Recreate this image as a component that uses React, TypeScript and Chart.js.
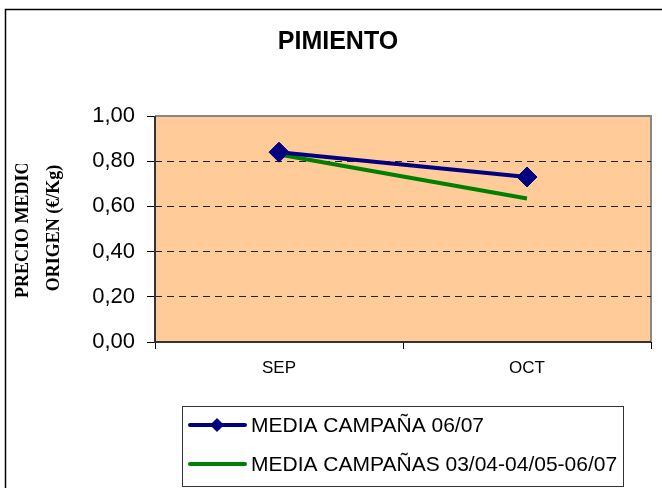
import React, { useEffect, useRef } from 'react';
import { Chart, registerables } from 'chart.js';

Chart.register(...registerables);

const categories = ['SEP', 'OCT'];
const serieCampana0607 = [0.84, 0.73];
const serieMediaCampanas = [0.83, 0.635];
const seriesLabels = ['MEDIA CAMPAÑA 06/07', 'MEDIA CAMPAÑAS 03/04-04/05-06/07'];
const seriesColors = ['#000080', '#008000'];
const chartTitle = 'PIMIENTO';
const yTitleLines = ['PRECIO MEDIO', 'ORIGEN (€/Kg)'];
const yTickValues = [0, 0.2, 0.4, 0.6, 0.8, 1.0];

const SANS = '"Liberation Sans", Arial, sans-serif';
const SERIF = '"Liberation Serif", "Times New Roman", serif';

const decorPlugin = {
  id: 'decor',
  beforeDraw(chart: any) {
    const { ctx, chartArea: a } = chart;
    ctx.save();
    ctx.fillStyle = '#ffffff';
    ctx.fillRect(0, 0, chart.width, chart.height);
    // outer chart frame
    ctx.strokeStyle = '#000000';
    ctx.lineWidth = 1.5;
    ctx.strokeRect(5.5, 9.5, chart.width + 20, chart.height + 20);
    // title
    ctx.fillStyle = '#000';
    ctx.font = `bold 25px ${SANS}`;
    ctx.textAlign = 'center';
    ctx.textBaseline = 'alphabetic';
    ctx.fillText(chartTitle, 338, 49);
    // y axis title (rotated, first line clipped)
    ctx.font = `bold 18px ${SERIF}`;
    ctx.save();
    ctx.beginPath();
    ctx.rect(0, 164, 120, 250);
    ctx.clip();
    ctx.translate(28, 298);
    ctx.rotate(-Math.PI / 2);
    ctx.textAlign = 'left';
    ctx.fillText(yTitleLines[0], 0, 0);
    ctx.restore();
    ctx.save();
    ctx.translate(59, 228);
    ctx.rotate(-Math.PI / 2);
    ctx.textAlign = 'center';
    ctx.fillText(yTitleLines[1], 0, 0);
    ctx.restore();
    // plot background
    ctx.fillStyle = '#FFCC99';
    ctx.fillRect(a.left, a.top, a.right - a.left, a.bottom - a.top);
    // plot border (gray)
    ctx.strokeStyle = '#888888';
    ctx.lineWidth = 2;
    ctx.beginPath();
    ctx.moveTo(a.left, a.top);
    ctx.lineTo(a.right, a.top);
    ctx.lineTo(a.right, a.bottom);
    ctx.stroke();
    ctx.restore();
  },
  beforeDatasetsDraw(chart: any) {
    const { ctx, chartArea: a } = chart;
    ctx.save();
    ctx.strokeStyle = '#333333';
    ctx.lineWidth = 2;
    ctx.beginPath();
    ctx.moveTo(a.left, a.top);
    ctx.lineTo(a.left, a.bottom);
    ctx.lineTo(a.right, a.bottom);
    ctx.stroke();
    ctx.restore();
  },
  afterDraw(chart: any) {
    const { ctx } = chart;
    ctx.save();
    // legend frame
    ctx.strokeStyle = '#333';
    ctx.lineWidth = 1;
    ctx.strokeRect(182.5, 406.5, 441, 80);
    const rows = [425, 464];
    chart.data.datasets.forEach((ds: any, i: number) => {
      const y = rows[i];
      ctx.strokeStyle = ds.borderColor;
      ctx.lineWidth = 4;
      ctx.lineCap = 'round';
      ctx.beginPath();
      ctx.moveTo(190, y);
      ctx.lineTo(245, y);
      ctx.stroke();
      if (ds.pointRadius > 0) {
        ctx.fillStyle = ds.borderColor;
        ctx.beginPath();
        ctx.moveTo(217, y - 7);
        ctx.lineTo(224, y);
        ctx.lineTo(217, y + 7);
        ctx.lineTo(210, y);
        ctx.closePath();
        ctx.fill();
      }
      ctx.fillStyle = '#000';
      ctx.font = `21px ${SANS}`;
      ctx.textAlign = 'left';
      ctx.textBaseline = 'middle';
      ctx.fillText(ds.label, 251, y + 1);
    });
    ctx.restore();
  },
};

export default function App() {
  const ref = useRef<HTMLCanvasElement | null>(null);
  useEffect(() => {
    document.body.style.margin = '0';
    if (!ref.current) return;
    const chart = new Chart(ref.current, {
      type: 'line',
      data: {
        labels: categories,
        datasets: [
          {
            label: seriesLabels[0],
            data: serieCampana0607,
            borderColor: seriesColors[0],
            backgroundColor: seriesColors[0],
            borderWidth: 4,
            pointStyle: 'rectRot',
            pointRadius: 10,
            pointHoverRadius: 10,
            pointBackgroundColor: seriesColors[0],
            pointBorderColor: seriesColors[0],
            pointBorderWidth: 1,
            tension: 0,
          },
          {
            label: seriesLabels[1],
            data: serieMediaCampanas,
            borderColor: seriesColors[1],
            backgroundColor: seriesColors[1],
            borderWidth: 4,
            pointRadius: 0,
            pointHoverRadius: 0,
            tension: 0,
          },
        ],
      },
      options: {
        responsive: false,
        animation: false,
        devicePixelRatio: 1,
        layout: { padding: { top: 116, right: 10, left: 0, bottom: 0 } },
        plugins: {
          legend: { display: false },
          title: { display: false },
          tooltip: { enabled: false },
        },
        scales: {
          x: {
            offset: true,
            grid: {
              offset: true,
              drawOnChartArea: false,
              tickLength: 7,
              tickColor: '#000',
              color: '#000',
            },
            border: { display: false },
            ticks: {
              color: '#000',
              font: { family: SANS, size: 17 },
              padding: 9,
              maxRotation: 0,
            },
            afterFit: (s: any) => {
              s.height = 146;
            },
          },
          y: {
            min: 0,
            max: 1,
            afterBuildTicks: (s: any) => {
              s.ticks = yTickValues.map((v) => ({ value: v }));
            },
            ticks: {
              color: '#000',
              font: { family: SANS, size: 22 },
              padding: 12,
              callback: (v: any) => Number(v).toFixed(2).replace('.', ','),
            },
            grid: {
              color: (c: any) =>
                c.tick && (Math.abs(c.tick.value) < 1e-9 || Math.abs(c.tick.value - 1) < 1e-9)
                  ? 'rgba(0,0,0,0)'
                  : '#222222',
              lineWidth: 1,
              tickLength: 8,
              tickColor: '#000',
              tickBorderDash: [],
            } as any,
            border: { display: false, dash: [7, 5] },
            afterFit: (s: any) => {
              s.width = 155;
            },
          },
        },
      },
      plugins: [decorPlugin],
    } as any);
    return () => chart.destroy();
  }, []);
  return (
    <div style={{ width: 662, height: 488 }}>
      <canvas ref={ref} width={662} height={488} />
    </div>
  );
}
